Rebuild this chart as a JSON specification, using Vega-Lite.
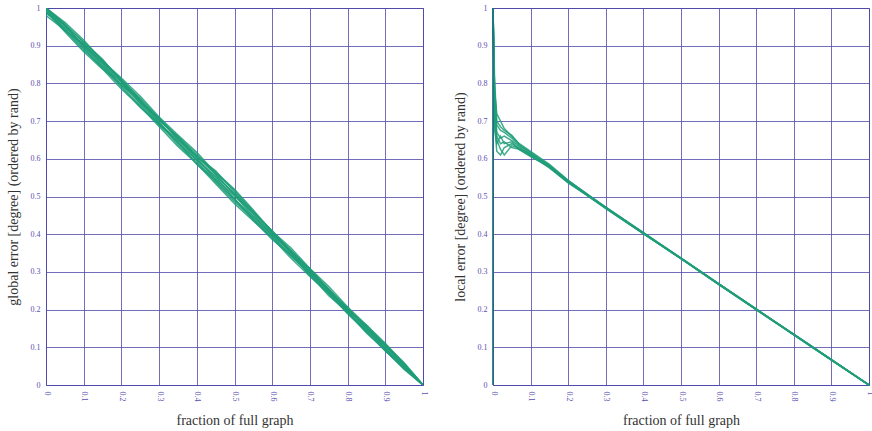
{
  "$schema": "https://vega.github.io/schema/vega-lite/v6.json",
  "padding": {"left": 5, "top": 3, "right": 2, "bottom": 2},
  "spacing": 24,
  "config": {
    "view": {"stroke": "#5b50b0", "strokeWidth": 1},
    "font": "Liberation Serif",
    "axis": {
      "grid": true, "gridColor": "#5048aa", "gridOpacity": 0.8, "gridWidth": 1,
      "domain": false, "ticks": false,
      "labelColor": "#5b50b0", "labelFont": "Liberation Serif", "labelFontSize": 8,
      "titleFont": "Liberation Serif", "titleFontSize": 14, "titleFontWeight": "normal", "titleColor": "#333333",
      "labelPadding": 6
    }
  },
  "datasets": {
    "g": [
      {"s":"1","x":0,"y":1},{"s":"1","x":0.05,"y":0.94},{"s":"1","x":0.1,"y":0.905},{"s":"1","x":0.15,"y":0.858},{"s":"1","x":0.2,"y":0.81},{"s":"1","x":0.25,"y":0.755},{"s":"1","x":0.3,"y":0.702},{"s":"1","x":0.35,"y":0.659},{"s":"1","x":0.4,"y":0.612},{"s":"1","x":0.45,"y":0.558},{"s":"1","x":0.5,"y":0.506},{"s":"1","x":0.55,"y":0.452},{"s":"1","x":0.6,"y":0.397},{"s":"1","x":0.65,"y":0.354},{"s":"1","x":0.7,"y":0.303},{"s":"1","x":0.75,"y":0.248},{"s":"1","x":0.8,"y":0.201},{"s":"1","x":0.85,"y":0.155},{"s":"1","x":0.9,"y":0.104},{"s":"1","x":0.95,"y":0.052},{"s":"1","x":1,"y":0},
      {"s":"2","x":0,"y":0.985},{"s":"2","x":0.05,"y":0.955},{"s":"2","x":0.1,"y":0.897},{"s":"2","x":0.15,"y":0.852},{"s":"2","x":0.2,"y":0.794},{"s":"2","x":0.25,"y":0.742},{"s":"2","x":0.3,"y":0.69},{"s":"2","x":0.35,"y":0.646},{"s":"2","x":0.4,"y":0.594},{"s":"2","x":0.45,"y":0.538},{"s":"2","x":0.5,"y":0.486},{"s":"2","x":0.55,"y":0.442},{"s":"2","x":0.6,"y":0.395},{"s":"2","x":0.65,"y":0.341},{"s":"2","x":0.7,"y":0.296},{"s":"2","x":0.75,"y":0.253},{"s":"2","x":0.8,"y":0.195},{"s":"2","x":0.85,"y":0.143},{"s":"2","x":0.9,"y":0.091},{"s":"2","x":0.95,"y":0.046},{"s":"2","x":1,"y":0},
      {"s":"3","x":0,"y":1},{"s":"3","x":0.05,"y":0.958},{"s":"3","x":0.1,"y":0.909},{"s":"3","x":0.15,"y":0.862},{"s":"3","x":0.2,"y":0.806},{"s":"3","x":0.25,"y":0.761},{"s":"3","x":0.3,"y":0.707},{"s":"3","x":0.35,"y":0.654},{"s":"3","x":0.4,"y":0.607},{"s":"3","x":0.45,"y":0.565},{"s":"3","x":0.5,"y":0.519},{"s":"3","x":0.55,"y":0.464},{"s":"3","x":0.6,"y":0.406},{"s":"3","x":0.65,"y":0.351},{"s":"3","x":0.7,"y":0.295},{"s":"3","x":0.75,"y":0.244},{"s":"3","x":0.8,"y":0.198},{"s":"3","x":0.85,"y":0.159},{"s":"3","x":0.9,"y":0.111},{"s":"3","x":0.95,"y":0.056},{"s":"3","x":1,"y":0},
      {"s":"4","x":0,"y":0.995},{"s":"4","x":0.05,"y":0.945},{"s":"4","x":0.1,"y":0.892},{"s":"4","x":0.15,"y":0.839},{"s":"4","x":0.2,"y":0.796},{"s":"4","x":0.25,"y":0.753},{"s":"4","x":0.3,"y":0.695},{"s":"4","x":0.35,"y":0.638},{"s":"4","x":0.4,"y":0.589},{"s":"4","x":0.45,"y":0.546},{"s":"4","x":0.5,"y":0.502},{"s":"4","x":0.55,"y":0.455},{"s":"4","x":0.6,"y":0.403},{"s":"4","x":0.65,"y":0.347},{"s":"4","x":0.7,"y":0.29},{"s":"4","x":0.75,"y":0.242},{"s":"4","x":0.8,"y":0.191},{"s":"4","x":0.85,"y":0.147},{"s":"4","x":0.9,"y":0.102},{"s":"4","x":0.95,"y":0.053},{"s":"4","x":1,"y":0},
      {"s":"5","x":0,"y":1},{"s":"5","x":0.05,"y":0.952},{"s":"5","x":0.1,"y":0.902},{"s":"5","x":0.15,"y":0.847},{"s":"5","x":0.2,"y":0.803},{"s":"5","x":0.25,"y":0.748},{"s":"5","x":0.3,"y":0.705},{"s":"5","x":0.35,"y":0.652},{"s":"5","x":0.4,"y":0.598},{"s":"5","x":0.45,"y":0.553},{"s":"5","x":0.5,"y":0.508},{"s":"5","x":0.55,"y":0.46},{"s":"5","x":0.6,"y":0.408},{"s":"5","x":0.65,"y":0.356},{"s":"5","x":0.7,"y":0.307},{"s":"5","x":0.75,"y":0.252},{"s":"5","x":0.8,"y":0.204},{"s":"5","x":0.85,"y":0.15},{"s":"5","x":0.9,"y":0.096},{"s":"5","x":0.95,"y":0.047},{"s":"5","x":1,"y":0},
      {"s":"6","x":0,"y":0.99},{"s":"6","x":0.05,"y":0.948},{"s":"6","x":0.1,"y":0.904},{"s":"6","x":0.15,"y":0.856},{"s":"6","x":0.2,"y":0.809},{"s":"6","x":0.25,"y":0.757},{"s":"6","x":0.3,"y":0.698},{"s":"6","x":0.35,"y":0.642},{"s":"6","x":0.4,"y":0.597},{"s":"6","x":0.45,"y":0.551},{"s":"6","x":0.5,"y":0.495},{"s":"6","x":0.55,"y":0.439},{"s":"6","x":0.6,"y":0.391},{"s":"6","x":0.65,"y":0.345},{"s":"6","x":0.7,"y":0.301},{"s":"6","x":0.75,"y":0.255},{"s":"6","x":0.8,"y":0.202},{"s":"6","x":0.85,"y":0.148},{"s":"6","x":0.9,"y":0.105},{"s":"6","x":0.95,"y":0.057},{"s":"6","x":1,"y":0},
      {"s":"7","x":0,"y":1},{"s":"7","x":0.05,"y":0.956},{"s":"7","x":0.1,"y":0.895},{"s":"7","x":0.15,"y":0.843},{"s":"7","x":0.2,"y":0.798},{"s":"7","x":0.25,"y":0.754},{"s":"7","x":0.3,"y":0.709},{"s":"7","x":0.35,"y":0.655},{"s":"7","x":0.4,"y":0.603},{"s":"7","x":0.45,"y":0.544},{"s":"7","x":0.5,"y":0.491},{"s":"7","x":0.55,"y":0.447},{"s":"7","x":0.6,"y":0.402},{"s":"7","x":0.65,"y":0.357},{"s":"7","x":0.7,"y":0.305},{"s":"7","x":0.75,"y":0.25},{"s":"7","x":0.8,"y":0.193},{"s":"7","x":0.85,"y":0.141},{"s":"7","x":0.9,"y":0.098},{"s":"7","x":0.95,"y":0.05},{"s":"7","x":1,"y":0},
      {"s":"8","x":0,"y":0.98},{"s":"8","x":0.05,"y":0.942},{"s":"8","x":0.1,"y":0.9},{"s":"8","x":0.15,"y":0.853},{"s":"8","x":0.2,"y":0.805},{"s":"8","x":0.25,"y":0.747},{"s":"8","x":0.3,"y":0.693},{"s":"8","x":0.35,"y":0.651},{"s":"8","x":0.4,"y":0.605},{"s":"8","x":0.45,"y":0.559},{"s":"8","x":0.5,"y":0.503},{"s":"8","x":0.55,"y":0.446},{"s":"8","x":0.6,"y":0.398},{"s":"8","x":0.65,"y":0.352},{"s":"8","x":0.7,"y":0.298},{"s":"8","x":0.75,"y":0.245},{"s":"8","x":0.8,"y":0.206},{"s":"8","x":0.85,"y":0.153},{"s":"8","x":0.9,"y":0.095},{"s":"8","x":0.95,"y":0.044},{"s":"8","x":1,"y":0},
      {"s":"9","x":0,"y":1},{"s":"9","x":0.05,"y":0.962},{"s":"9","x":0.1,"y":0.915},{"s":"9","x":0.15,"y":0.859},{"s":"9","x":0.2,"y":0.814},{"s":"9","x":0.25,"y":0.766},{"s":"9","x":0.3,"y":0.711},{"s":"9","x":0.35,"y":0.663},{"s":"9","x":0.4,"y":0.617},{"s":"9","x":0.45,"y":0.562},{"s":"9","x":0.5,"y":0.516},{"s":"9","x":0.55,"y":0.46},{"s":"9","x":0.6,"y":0.408},{"s":"9","x":0.65,"y":0.363},{"s":"9","x":0.7,"y":0.309},{"s":"9","x":0.75,"y":0.261},{"s":"9","x":0.8,"y":0.207},{"s":"9","x":0.85,"y":0.159},{"s":"9","x":0.9,"y":0.106},{"s":"9","x":0.95,"y":0.054},{"s":"9","x":1,"y":0},
      {"s":"10","x":0,"y":0.99},{"s":"10","x":0.05,"y":0.937},{"s":"10","x":0.1,"y":0.884},{"s":"10","x":0.15,"y":0.838},{"s":"10","x":0.2,"y":0.785},{"s":"10","x":0.25,"y":0.739},{"s":"10","x":0.3,"y":0.686},{"s":"10","x":0.35,"y":0.633},{"s":"10","x":0.4,"y":0.587},{"s":"10","x":0.45,"y":0.534},{"s":"10","x":0.5,"y":0.481},{"s":"10","x":0.55,"y":0.435},{"s":"10","x":0.6,"y":0.39},{"s":"10","x":0.65,"y":0.336},{"s":"10","x":0.7,"y":0.288},{"s":"10","x":0.75,"y":0.242},{"s":"10","x":0.8,"y":0.189},{"s":"10","x":0.85,"y":0.141},{"s":"10","x":0.9,"y":0.09},{"s":"10","x":0.95,"y":0.044},{"s":"10","x":1,"y":0},
      {"s":"11","x":0,"y":1},{"s":"11","x":0.05,"y":0.954},{"s":"11","x":0.1,"y":0.91},{"s":"11","x":0.15,"y":0.864},{"s":"11","x":0.2,"y":0.806},{"s":"11","x":0.25,"y":0.751},{"s":"11","x":0.3,"y":0.704},{"s":"11","x":0.35,"y":0.66},{"s":"11","x":0.4,"y":0.606},{"s":"11","x":0.45,"y":0.568},{"s":"11","x":0.5,"y":0.512},{"s":"11","x":0.55,"y":0.457},{"s":"11","x":0.6,"y":0.409},{"s":"11","x":0.65,"y":0.353},{"s":"11","x":0.7,"y":0.308},{"s":"11","x":0.75,"y":0.254},{"s":"11","x":0.8,"y":0.197},{"s":"11","x":0.85,"y":0.152},{"s":"11","x":0.9,"y":0.108},{"s":"11","x":0.95,"y":0.059},{"s":"11","x":1,"y":0},
      {"s":"12","x":0,"y":0.992},{"s":"12","x":0.05,"y":0.941},{"s":"12","x":0.1,"y":0.888},{"s":"12","x":0.15,"y":0.845},{"s":"12","x":0.2,"y":0.79},{"s":"12","x":0.25,"y":0.736},{"s":"12","x":0.3,"y":0.692},{"s":"12","x":0.35,"y":0.645},{"s":"12","x":0.4,"y":0.585},{"s":"12","x":0.45,"y":0.541},{"s":"12","x":0.5,"y":0.493},{"s":"12","x":0.55,"y":0.437},{"s":"12","x":0.6,"y":0.386},{"s":"12","x":0.65,"y":0.344},{"s":"12","x":0.7,"y":0.293},{"s":"12","x":0.75,"y":0.237},{"s":"12","x":0.8,"y":0.194},{"s":"12","x":0.85,"y":0.138},{"s":"12","x":0.9,"y":0.092},{"s":"12","x":0.95,"y":0.041},{"s":"12","x":1,"y":0}
    ],
    "l": [
      {"s":"1","x":0,"y":1},{"s":"1","x":0.004,"y":0.78},{"s":"1","x":0.01,"y":0.72},{"s":"1","x":0.02,"y":0.70},{"s":"1","x":0.03,"y":0.68},{"s":"1","x":0.05,"y":0.66},{"s":"1","x":0.07,"y":0.64},{"s":"1","x":0.1,"y":0.62},{"s":"1","x":0.15,"y":0.585},{"s":"1","x":0.2,"y":0.543},{"s":"1","x":0.25,"y":0.507},{"s":"1","x":0.3,"y":0.472},{"s":"1","x":0.4,"y":0.404},{"s":"1","x":0.5,"y":0.337},{"s":"1","x":0.6,"y":0.269},{"s":"1","x":0.7,"y":0.202},{"s":"1","x":0.8,"y":0.134},{"s":"1","x":0.9,"y":0.067},{"s":"1","x":1,"y":0},
      {"s":"2","x":0,"y":1},{"s":"2","x":0.004,"y":0.74},{"s":"2","x":0.01,"y":0.66},{"s":"2","x":0.02,"y":0.64},{"s":"2","x":0.03,"y":0.645},{"s":"2","x":0.05,"y":0.63},{"s":"2","x":0.07,"y":0.625},{"s":"2","x":0.1,"y":0.608},{"s":"2","x":0.15,"y":0.578},{"s":"2","x":0.2,"y":0.538},{"s":"2","x":0.25,"y":0.503},{"s":"2","x":0.3,"y":0.469},{"s":"2","x":0.4,"y":0.402},{"s":"2","x":0.5,"y":0.335},{"s":"2","x":0.6,"y":0.267},{"s":"2","x":0.7,"y":0.2},{"s":"2","x":0.8,"y":0.133},{"s":"2","x":0.9,"y":0.066},{"s":"2","x":1,"y":0},
      {"s":"3","x":0,"y":1},{"s":"3","x":0.004,"y":0.70},{"s":"3","x":0.01,"y":0.62},{"s":"3","x":0.02,"y":0.61},{"s":"3","x":0.03,"y":0.63},{"s":"3","x":0.05,"y":0.64},{"s":"3","x":0.07,"y":0.628},{"s":"3","x":0.1,"y":0.613},{"s":"3","x":0.15,"y":0.582},{"s":"3","x":0.2,"y":0.541},{"s":"3","x":0.25,"y":0.506},{"s":"3","x":0.3,"y":0.47},{"s":"3","x":0.4,"y":0.403},{"s":"3","x":0.5,"y":0.336},{"s":"3","x":0.6,"y":0.268},{"s":"3","x":0.7,"y":0.201},{"s":"3","x":0.8,"y":0.134},{"s":"3","x":0.9,"y":0.067},{"s":"3","x":1,"y":0},
      {"s":"4","x":0,"y":1},{"s":"4","x":0.004,"y":0.82},{"s":"4","x":0.01,"y":0.69},{"s":"4","x":0.02,"y":0.675},{"s":"4","x":0.03,"y":0.67},{"s":"4","x":0.05,"y":0.655},{"s":"4","x":0.07,"y":0.635},{"s":"4","x":0.1,"y":0.617},{"s":"4","x":0.15,"y":0.581},{"s":"4","x":0.2,"y":0.54},{"s":"4","x":0.25,"y":0.504},{"s":"4","x":0.3,"y":0.471},{"s":"4","x":0.4,"y":0.403},{"s":"4","x":0.5,"y":0.336},{"s":"4","x":0.6,"y":0.268},{"s":"4","x":0.7,"y":0.201},{"s":"4","x":0.8,"y":0.134},{"s":"4","x":0.9,"y":0.067},{"s":"4","x":1,"y":0},
      {"s":"5","x":0,"y":1},{"s":"5","x":0.004,"y":0.76},{"s":"5","x":0.01,"y":0.67},{"s":"5","x":0.02,"y":0.655},{"s":"5","x":0.03,"y":0.66},{"s":"5","x":0.05,"y":0.648},{"s":"5","x":0.07,"y":0.632},{"s":"5","x":0.1,"y":0.611},{"s":"5","x":0.15,"y":0.576},{"s":"5","x":0.2,"y":0.537},{"s":"5","x":0.25,"y":0.505},{"s":"5","x":0.3,"y":0.469},{"s":"5","x":0.4,"y":0.402},{"s":"5","x":0.5,"y":0.335},{"s":"5","x":0.6,"y":0.267},{"s":"5","x":0.7,"y":0.2},{"s":"5","x":0.8,"y":0.134},{"s":"5","x":0.9,"y":0.067},{"s":"5","x":1,"y":0},
      {"s":"6","x":0,"y":1},{"s":"6","x":0.004,"y":0.68},{"s":"6","x":0.01,"y":0.64},{"s":"6","x":0.02,"y":0.66},{"s":"6","x":0.03,"y":0.64},{"s":"6","x":0.05,"y":0.645},{"s":"6","x":0.07,"y":0.624},{"s":"6","x":0.1,"y":0.606},{"s":"6","x":0.15,"y":0.579},{"s":"6","x":0.2,"y":0.539},{"s":"6","x":0.25,"y":0.504},{"s":"6","x":0.3,"y":0.47},{"s":"6","x":0.4,"y":0.402},{"s":"6","x":0.5,"y":0.336},{"s":"6","x":0.6,"y":0.268},{"s":"6","x":0.7,"y":0.201},{"s":"6","x":0.8,"y":0.133},{"s":"6","x":0.9,"y":0.066},{"s":"6","x":1,"y":0},
      {"s":"7","x":0,"y":1},{"s":"7","x":0.004,"y":0.79},{"s":"7","x":0.01,"y":0.70},{"s":"7","x":0.02,"y":0.685},{"s":"7","x":0.03,"y":0.675},{"s":"7","x":0.05,"y":0.662},{"s":"7","x":0.07,"y":0.638},{"s":"7","x":0.1,"y":0.615},{"s":"7","x":0.15,"y":0.583},{"s":"7","x":0.2,"y":0.542},{"s":"7","x":0.25,"y":0.506},{"s":"7","x":0.3,"y":0.471},{"s":"7","x":0.4,"y":0.404},{"s":"7","x":0.5,"y":0.336},{"s":"7","x":0.6,"y":0.269},{"s":"7","x":0.7,"y":0.201},{"s":"7","x":0.8,"y":0.134},{"s":"7","x":0.9,"y":0.067},{"s":"7","x":1,"y":0},
      {"s":"8","x":0,"y":1},{"s":"8","x":0.004,"y":0.72},{"s":"8","x":0.01,"y":0.65},{"s":"8","x":0.02,"y":0.625},{"s":"8","x":0.03,"y":0.61},{"s":"8","x":0.05,"y":0.635},{"s":"8","x":0.07,"y":0.627},{"s":"8","x":0.1,"y":0.609},{"s":"8","x":0.15,"y":0.577},{"s":"8","x":0.2,"y":0.536},{"s":"8","x":0.25,"y":0.503},{"s":"8","x":0.3,"y":0.468},{"s":"8","x":0.4,"y":0.401},{"s":"8","x":0.5,"y":0.335},{"s":"8","x":0.6,"y":0.267},{"s":"8","x":0.7,"y":0.2},{"s":"8","x":0.8,"y":0.133},{"s":"8","x":0.9,"y":0.066},{"s":"8","x":1,"y":0},
      {"s":"z","x":0,"y":0},{"s":"z","x":0,"y":1}
    ]
  },
  "hconcat": [
    {
      "width": 377, "height": 377,
      "data": {"name": "g"},
      "mark": {"type": "line", "strokeWidth": 1.5, "opacity": 0.85, "clip": true},
      "encoding": {
        "x": {"field": "x", "type": "quantitative", "scale": {"domain": [0, 1], "nice": false}, "title": "fraction of full graph",
              "axis": {"values": [0,0.1,0.2,0.3,0.4,0.5,0.6,0.7,0.8,0.9,1], "format": "~g", "labelAngle": 90, "titlePadding": 12}},
        "y": {"field": "y", "type": "quantitative", "scale": {"domain": [0, 1], "nice": false}, "title": "global error [degree] (ordered by rand)",
              "axis": {"values": [0,0.1,0.2,0.3,0.4,0.5,0.6,0.7,0.8,0.9,1], "format": "~g", "titlePadding": 10}},
        "detail": {"field": "s"},
        "color": {"value": "#1f9e78"}
      }
    },
    {
      "width": 376, "height": 377,
      "data": {"name": "l"},
      "mark": {"type": "line", "opacity": 0.85, "clip": false},
      "encoding": {
        "x": {"field": "x", "type": "quantitative", "scale": {"domain": [0, 1], "nice": false}, "title": "fraction of full graph",
              "axis": {"values": [0,0.1,0.2,0.3,0.4,0.5,0.6,0.7,0.8,0.9,1], "format": "~g", "labelAngle": 90, "titlePadding": 12}},
        "y": {"field": "y", "type": "quantitative", "scale": {"domain": [0, 1], "nice": false}, "title": "local error [degree] (ordered by rand)",
              "axis": {"values": [0,0.1,0.2,0.3,0.4,0.5,0.6,0.7,0.8,0.9,1], "format": "~g", "titlePadding": 10}},
        "detail": {"field": "s"},
        "color": {"condition": {"test": "datum.s === 'z'", "value": "#1d6f80"}, "value": "#1f9e78"},
        "strokeWidth": {"condition": {"test": "datum.s === 'z'", "value": 2}, "value": 1.5}
      }
    }
  ]
}
